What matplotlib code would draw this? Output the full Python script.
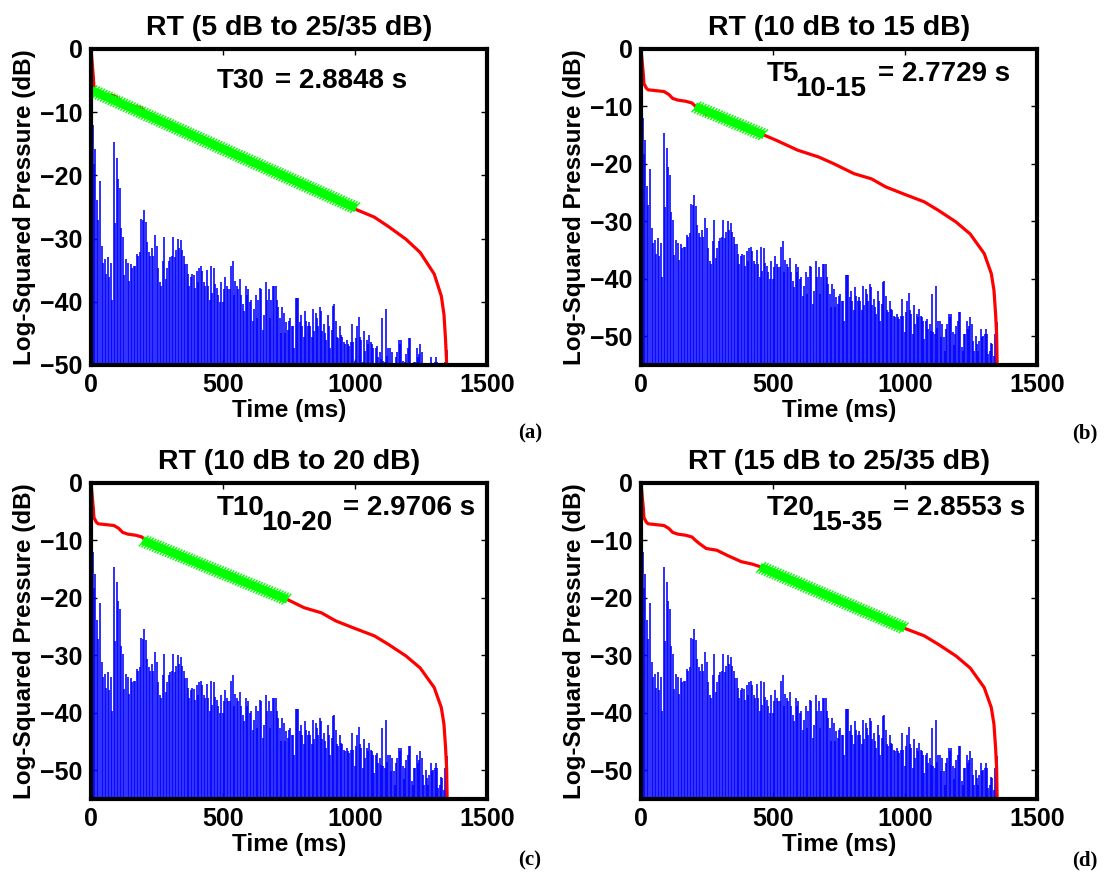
import matplotlib.pyplot as plt
import matplotlib.patheffects as pe
import numpy as np

# impulse response peaks (dB), read in blocks: (start ms, end ms, values)
ir_early_t = [2, 6]
ir_early = [-6.0, -12.0]
ir_b1 = [-18.2, -15.9, -23.9, -27.1, -20.9, -31.2, -33.8, -33.2, -35.6, -32.9,
         -36.1, -33.8, -39.7, -14.7, -27.5, -17.3, -20.5, -22.0, -28.4, -29.8,
         -35.8, -33.2, -33.8, -36.7, -34.0, -34.6, -34.4, -34.4, -32.4, -32.7,
         -32.1, -26.9, -27.1, -25.4, -27.4, -30.6, -32.1, -32.7, -31.5, -32.7,
         -29.5, -31.2, -34.6, -36.9, -37.5, -33.5, -29.8, -36.4, -34.6, -33.5,
         -32.9, -32.7, -29.8, -32.9, -31.8, -30.0, -31.5]
ir_b2 = [-30.3, -31.8, -32.7, -34.0, -34.0, -35.6, -37.5, -36.1, -35.6, -35.8,
         -37.8, -35.2, -36.9, -34.6, -34.4, -35.2, -36.9, -37.5, -34.9, -37.5,
         -39.7, -34.4, -38.6, -34.6, -37.2, -37.8, -38.9, -40.1, -36.9, -40.1,
         -38.0, -36.1, -37.5, -38.0, -38.0, -34.4, -33.5, -38.9, -36.7, -37.5,
         -38.0, -36.4, -38.9, -40.4, -41.5, -37.5, -38.9, -38.0, -40.1, -39.7,
         -43.0, -41.2, -38.9, -42.6, -39.7, -37.8, -38.0, -44.4, -42.1, -36.9,
         -39.7, -38.0, -42.6, -39.7, -37.5]
ir_b3 = [-37.5, -37.5, -39.7, -40.9, -42.6, -44.9, -40.9, -41.8, -44.9, -43.2,
         -44.4, -43.0, -42.6, -43.8, -43.8, -47.3, -39.4, -39.4, -39.4, -43.2,
         -42.1, -43.8, -45.5, -41.5, -43.0, -43.8, -43.2, -43.8, -45.5, -41.2,
         -44.6, -41.8, -42.6, -43.8, -40.9, -41.5, -44.6, -43.5, -44.9, -46.1,
         -42.1, -43.8, -47.3, -44.4, -40.6, -40.4, -43.0, -45.5, -45.8, -43.8,
         -45.2, -45.5, -46.4, -46.7, -46.1, -46.7, -47.0, -46.4, -43.5, -46.4,
         -49.3, -45.8, -43.8, -42.4, -45.5, -46.1, -49.6, -44.6, -47.8, -46.1,
         -46.7]
ir_b4 = [-45.3, -46.4, -46.7, -47.3, -50.5, -47.3, -47.0, -48.8, -47.9, -49.0,
         -42.6, -49.3, -49.6, -41.2, -48.5, -47.3, -47.3, -50.2, -47.9, -50.2,
         -52.5, -48.8, -47.9, -46.1, -46.7, -46.1, -49.3, -51.6, -49.6, -48.2,
         -47.3, -45.8, -45.8, -51.9, -52.5, -49.6, -49.6, -47.3, -48.8, -48.2,
         -46.7, -47.9, -50.8, -52.5, -49.9, -51.4, -52.5, -50.8, -48.8, -50.2,
         -49.9, -49.6, -48.8, -49.6, -53.1, -52.5, -51.1, -51.4, -53.4, -49.6,
         -48.5, -47.6]
ir_blocks = [(11, 335, ir_b1), (340, 689, ir_b2), (694, 1049, ir_b3), (1054, 1350, ir_b4)]

# Schroeder decay curve (shared by all panels)
red_t = [0, 3, 6, 9, 11, 20, 27, 87, 105, 120, 140, 170, 193, 207, 220, 247, 287,
         327, 380, 420, 447, 467, 513, 593, 673, 727, 807, 873, 927, 993, 1073,
         1127, 1193, 1247, 1300, 1327, 1337, 1343, 1347, 1349]
red_db = [0, -1.5, -3.0, -4.5, -6.0, -6.8, -7.1, -7.4, -7.9, -8.6, -8.9, -9.1, -9.4,
          -10.0, -10.5, -11.4, -11.7, -12.6, -13.7, -14.1, -14.5, -15.0, -15.9,
          -17.6, -18.8, -19.9, -21.7, -22.6, -24.0, -25.2, -26.6, -28.1, -30.1,
          -32.2, -35.6, -39.1, -42.0, -46.0, -49.6, -55.0]

# fitted ranges (green)
green_t = [[0, 1005], [205, 467], [195, 745], [450, 1000]]
green_db = [[-6.5, -25.2], [-10.0, -15.0], [-10.0, -20.3], [-14.6, -25.3]]

titles = ["RT (5 dB to 25/35 dB)", "RT (10 dB to 15 dB)",
          "RT (10 dB to 20 dB)", "RT (15 dB to 25/35 dB)"]
rt_name = ["T30", "T5", "T10", "T20"]
rt_sub = ["", "10-15", "10-20", "15-35"]
rt_val = ["= 2.8848 s", "= 2.7729 s", "= 2.9706 s", "= 2.8553 s"]
panel_labels = ["(a)", "(b)", "(c)", "(d)"]
ymins = [-50, -55, -55, -55]

plt.rcParams['font.family'] = 'Liberation Sans'
plt.rcParams['font.weight'] = 'bold'

fig = plt.figure(figsize=(11.07, 8.77), dpi=100)
W, H = 1107, 877
rects = [(91, 49), (641, 49), (91, 483), (641, 483)]
lab_xy = [(530, 433), (1085, 433), (530, 860), (1085, 860)]
green = (0, 1, 0)

for i in range(4):
    x0, y0 = rects[i]
    ax = fig.add_axes([x0 / W, 1 - (y0 + 316) / H, 396 / W, 316 / H])
    ax.vlines(ir_early_t, -60, ir_early, color='blue', lw=1.15)
    for t0, t1, vals in ir_blocks:
        ax.vlines(np.linspace(t0, t1, len(vals)), -60, vals, color='blue', lw=1.15)
    ax.plot(red_t, red_db, color='red', lw=2.3)
    ax.plot(green_t[i], green_db[i], color=green, lw=6, solid_capstyle='butt',
            path_effects=[pe.TickedStroke(spacing=2, angle=70, length=2.6, linewidth=1, foreground=green),
                          pe.TickedStroke(spacing=2, angle=-110, length=2.6, linewidth=1, foreground=green),
                          pe.Normal()])
    ax.set_xlim(0, 1500)
    ax.set_ylim(ymins[i], 0)
    ax.set_xticks([0, 500, 1000, 1500])
    ax.set_yticks([0, -10, -20, -30, -40, -50])
    ax.tick_params(direction='in', length=4, width=1, top=True, right=True,
                   labelsize=18, pad=6)
    for s in ax.spines.values():
        s.set_linewidth(3)
    ax.set_title(titles[i], fontsize=20.5, fontweight='bold', pad=10)
    ax.set_xlabel("Time (ms)", fontsize=17.5, fontweight='bold', labelpad=1)
    ax.set_ylabel("Log-Squared Pressure (dB)", fontsize=17.5, fontweight='bold', labelpad=3)

    # reverberation time label: name, lowered subscript of the same size, value
    ty = -6.2 if i == 0 else -5.6
    t1 = ax.text(478, ty, rt_name[i], fontsize=20, va='baseline', ha='left')
    if rt_sub[i]:
        sub = ax.annotate(rt_sub[i], xy=(1, 0), xycoords=t1, xytext=(-3, -11),
                          textcoords='offset points', fontsize=20, va='bottom', ha='left')
        ax.annotate(rt_val[i], xy=(1, 0), xycoords=sub, xytext=(8, 11),
                    textcoords='offset points', fontsize=20, va='bottom', ha='left')
    else:
        ax.annotate(rt_val[i], xy=(1, 0), xycoords=t1, xytext=(7, 0),
                    textcoords='offset points', fontsize=20, va='bottom', ha='left')

    fig.text(lab_xy[i][0] / W, 1 - lab_xy[i][1] / H, panel_labels[i], fontsize=15,
             fontweight='bold', family='Liberation Serif', ha='center', va='center')

plt.savefig("out.png", dpi=100)
